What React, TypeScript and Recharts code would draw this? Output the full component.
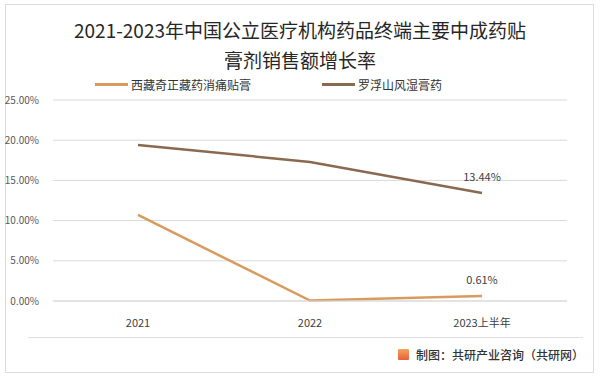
import React from "react";
import { LineChart, Line, XAxis, YAxis, CartesianGrid, LabelList } from "recharts";

const categories = ["2021", "2022", "2023上半年"];
const seriesA = [10.7, 0.05, 0.61]; // 西藏奇正藏药消痛贴膏
const seriesB = [19.4, 17.3, 13.44]; // 罗浮山风湿膏药
const yTicks = [0, 5, 10, 15, 20, 25];
const nameA = "西藏奇正藏药消痛贴膏";
const nameB = "罗浮山风湿膏药";
const titleLine1 = "2021-2023年中国公立医疗机构药品终端主要中成药贴";
const titleLine2 = "膏剂销售额增长率";
const footer = "制图：共研产业咨询（共研网）";

const data = categories.map((c, i) => ({ name: c, a: seriesA[i], b: seriesB[i] }));

const colorA = "#D99A5E";
const colorB = "#8A6A4F";
const font = "'Noto Sans CJK SC', 'Noto Sans', sans-serif";

const lastLabel = (props: any) => {
  const { x, y, value, index } = props;
  if (index !== categories.length - 1) return null;
  return (
    <text x={x} y={y - 12} textAnchor="middle" fontSize={11} fill="#404040" fontFamily={font}>
      {Number(value).toFixed(2)}%
    </text>
  );
};

export default function App() {
  return (
    <div style={{ position: "absolute", left: 0, top: 0, width: 600, height: 376, background: "#fff", fontFamily: font }}>
      <div style={{ position: "absolute", left: 5, top: 4, width: 587, height: 367, border: "1px solid #dcdcdc" }} />
      <div style={{ position: "absolute", left: 0, top: 15, width: 600, textAlign: "center", fontSize: 19, color: "#262626", lineHeight: "30px" }}>
        <div>{titleLine1}</div>
        <div>{titleLine2}</div>
      </div>
      <div style={{ position: "absolute", left: 95, top: 76, fontSize: 12, color: "#333", display: "flex", alignItems: "center" }}>
        <span style={{ display: "inline-block", width: 33, height: 3, background: colorA, marginRight: 3 }} />
        <span>{nameA}</span>
      </div>
      <div style={{ position: "absolute", left: 322, top: 76, fontSize: 12, color: "#333", display: "flex", alignItems: "center" }}>
        <span style={{ display: "inline-block", width: 33, height: 3, background: colorB, marginRight: 3 }} />
        <span>{nameB}</span>
      </div>
      <div style={{ position: "absolute", left: 0, top: 0 }}>
        <LineChart width={600} height={376} data={data} margin={{ top: 100, right: 33, bottom: 45, left: 8 }}>
          <CartesianGrid vertical={false} stroke="#d9d9d9" />
          <XAxis
            dataKey="name"
            axisLine={{ stroke: "#d9d9d9" }}
            tickLine={false}
            height={30}
            tickMargin={12}
            padding={{ left: 85, right: 85 }}
            tick={{ fontSize: 11, fill: "#404040", fontFamily: font }}
          />
          <YAxis
            domain={[0, 25]}
            ticks={yTicks}
            axisLine={false}
            tickLine={false}
            width={45}
            tickMargin={8}
            tickFormatter={(v: number) => v.toFixed(2) + "%"}
            tick={{ fontSize: 10, fill: "#595959", fontFamily: font }}
          />
          <Line type="linear" dataKey="a" stroke={colorA} strokeWidth={2.5} dot={false} isAnimationActive={false}>
            <LabelList dataKey="a" content={lastLabel} />
          </Line>
          <Line type="linear" dataKey="b" stroke={colorB} strokeWidth={2.5} dot={false} isAnimationActive={false}>
            <LabelList dataKey="b" content={lastLabel} />
          </Line>
        </LineChart>
      </div>
      <div style={{ position: "absolute", left: 28, top: 337, width: 555, height: 1, background: "#e0e0e0" }} />
      <div style={{ position: "absolute", right: 16, top: 346, fontSize: 12, color: "#333", display: "flex", alignItems: "center", fontWeight: 500 }}>
        <span style={{ display: "inline-block", width: 11, height: 11, background: "linear-gradient(#f3a35b, #e8603c)", marginRight: 7, borderRadius: 1 }} />
        <span>{footer}</span>
      </div>
    </div>
  );
}
